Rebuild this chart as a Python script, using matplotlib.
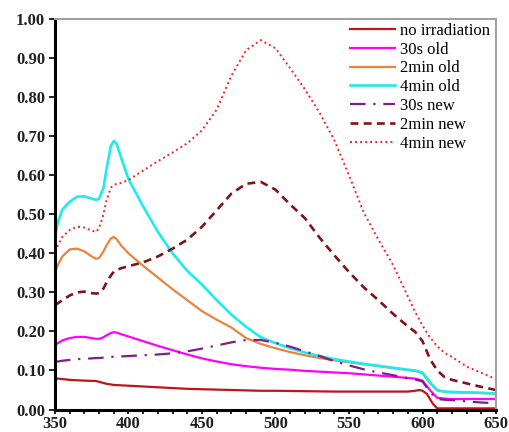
import matplotlib
matplotlib.use("Agg")
import matplotlib.pyplot as plt
from matplotlib.ticker import MultipleLocator, FormatStrFormatter

# Absorbance spectra (wavelength in nm)
wl_none = [350, 355, 360, 370, 378, 380, 385, 390, 400, 410, 420, 430, 440, 450, 460, 470,
           480, 490, 500, 520, 540, 560, 580, 590, 595, 598, 600, 603, 607, 610, 620, 630, 640, 650]
abs_none = [0.080, 0.078, 0.076, 0.074, 0.073, 0.071, 0.066, 0.063, 0.061, 0.059, 0.057, 0.055,
            0.053, 0.052, 0.051, 0.050, 0.049, 0.048, 0.048, 0.047, 0.046, 0.046, 0.046, 0.046,
            0.048, 0.050, 0.048, 0.040, 0.015, 0.003, 0.003, 0.003, 0.003, 0.003]

wl_std = [350, 352, 355, 360, 365, 370, 375, 378, 380, 383, 385, 388, 390, 392, 395, 400, 410,
          420, 430, 440, 450, 460, 470, 480, 490, 500, 510, 520, 530, 540, 550, 560, 570, 580,
          590, 595, 600, 605, 610, 615, 620, 630, 640, 650]

abs_30s_old = [0.165, 0.170, 0.177, 0.183, 0.186, 0.186, 0.183, 0.181, 0.181, 0.185, 0.190,
               0.196, 0.198, 0.197, 0.193, 0.187, 0.175, 0.163, 0.152, 0.141, 0.131, 0.123,
               0.116, 0.111, 0.107, 0.104, 0.102, 0.099, 0.097, 0.095, 0.093, 0.090, 0.087,
               0.084, 0.081, 0.079, 0.074, 0.050, 0.030, 0.028, 0.027, 0.027, 0.027, 0.027]

abs_2min_old = [0.353, 0.370, 0.392, 0.410, 0.412, 0.405, 0.392, 0.386, 0.388, 0.405, 0.420,
                0.438, 0.442, 0.436, 0.420, 0.400, 0.368, 0.338, 0.308, 0.280, 0.252, 0.230,
                0.210, 0.183, 0.168, 0.157, 0.147, 0.139, 0.132, 0.126, 0.121, 0.116, 0.111,
                0.106, 0.101, 0.099, 0.093, 0.068, 0.049, 0.045, 0.044, 0.043, 0.042, 0.041]

abs_4min_old = [0.443, 0.480, 0.512, 0.532, 0.545, 0.546, 0.540, 0.537, 0.540, 0.568, 0.615,
                0.675, 0.688, 0.680, 0.645, 0.590, 0.520, 0.455, 0.400, 0.355, 0.320, 0.280,
                0.243, 0.212, 0.185, 0.170, 0.157, 0.146, 0.137, 0.129, 0.123, 0.117, 0.112,
                0.107, 0.102, 0.100, 0.095, 0.070, 0.050, 0.046, 0.045, 0.044, 0.043, 0.041]

abs_30s_new = [0.122, 0.123, 0.125, 0.127, 0.129, 0.130, 0.131, 0.132, 0.132, 0.133, 0.134,
               0.135, 0.135, 0.135, 0.136, 0.137, 0.139, 0.141, 0.144, 0.149, 0.156, 0.164,
               0.172, 0.178, 0.178, 0.171, 0.161, 0.149, 0.137, 0.124, 0.113, 0.103, 0.095,
               0.088, 0.080, 0.077, 0.072, 0.045, 0.027, 0.025, 0.024, 0.021, 0.018, 0.016]

abs_2min_new = [0.268, 0.272, 0.280, 0.292, 0.300, 0.302, 0.298, 0.297, 0.298, 0.310, 0.325,
                0.343, 0.353, 0.357, 0.362, 0.367, 0.377, 0.392, 0.412, 0.435, 0.468, 0.510,
                0.553, 0.578, 0.583, 0.563, 0.525, 0.490, 0.440, 0.395, 0.352, 0.313, 0.280,
                0.245, 0.213, 0.199, 0.175, 0.130, 0.100, 0.083, 0.076, 0.067, 0.058, 0.050]

abs_4min_new = [0.405, 0.420, 0.442, 0.460, 0.468, 0.466, 0.458, 0.455, 0.465, 0.500, 0.535,
                0.568, 0.575, 0.578, 0.580, 0.588, 0.612, 0.636, 0.658, 0.682, 0.715, 0.768,
                0.855, 0.920, 0.946, 0.925, 0.874, 0.820, 0.760, 0.690, 0.600, 0.505, 0.435,
                0.370, 0.290, 0.250, 0.215, 0.185, 0.162, 0.145, 0.135, 0.110, 0.094, 0.078]

labels = ["no irradiation", "30s old", "2min old", "4min old", "30s new", "2min new", "4min new"]

fig = plt.figure(figsize=(5.09, 4.32), dpi=100)
ax = fig.add_axes([0.108, 0.052, 0.8665, 0.904])

ax.plot(wl_none, abs_none, color="#C0141A", lw=1.6, label=labels[0])
ax.plot(wl_std, abs_30s_old, color="#FF00FF", lw=1.6, label=labels[1])
ax.plot(wl_std, abs_2min_old, color="#E8843E", lw=1.6, label=labels[2])
ax.plot(wl_std, abs_4min_old, color="#1EEBEB", lw=1.9, label=labels[3])
ax.plot(wl_std, abs_30s_new, color="#7F1F84", lw=1.6, ls=(0, (7, 3.5, 1, 3.5)), label=labels[4])
ax.plot(wl_std, abs_2min_new, color="#7F1418", lw=1.9, ls=(0, (3, 2)), label=labels[5])
ax.plot(wl_std, abs_4min_new, color="#FF2020", lw=1.4, ls=(0, (1, 1.6)), label=labels[6])

ax.set_xlim(350, 650)
ax.set_ylim(0, 1.0)
ax.xaxis.set_major_locator(MultipleLocator(50))
ax.xaxis.set_minor_locator(MultipleLocator(10))
ax.yaxis.set_major_locator(MultipleLocator(0.1))
ax.yaxis.set_major_formatter(FormatStrFormatter("%.2f"))

for side in ("top", "right"):
    ax.spines[side].set_color("#A0A0A0")
    ax.spines[side].set_linewidth(1.5)
for side in ("left", "bottom"):
    ax.spines[side].set_color("black")
    ax.spines[side].set_linewidth(2.2)

ax.tick_params(axis="both", which="both", direction="out", color="black", width=1.2)
ax.tick_params(axis="y", which="major", length=4, pad=3)
ax.tick_params(axis="x", which="major", length=3, pad=2)
ax.tick_params(axis="x", which="minor", length=3)

for lab in ax.get_xticklabels() + ax.get_yticklabels():
    lab.set_fontfamily("Liberation Serif")
    lab.set_fontweight("bold")
    lab.set_fontsize(12)
    lab.set_color("#202020")

leg = ax.legend(loc="upper right", frameon=False, prop={"family": "Liberation Serif", "size": 12},
                handlelength=2.65, handletextpad=0.3, labelspacing=0.17,
                borderaxespad=0.15, bbox_to_anchor=(1.006, 1.014))

fig.savefig("out.png", dpi=100)
